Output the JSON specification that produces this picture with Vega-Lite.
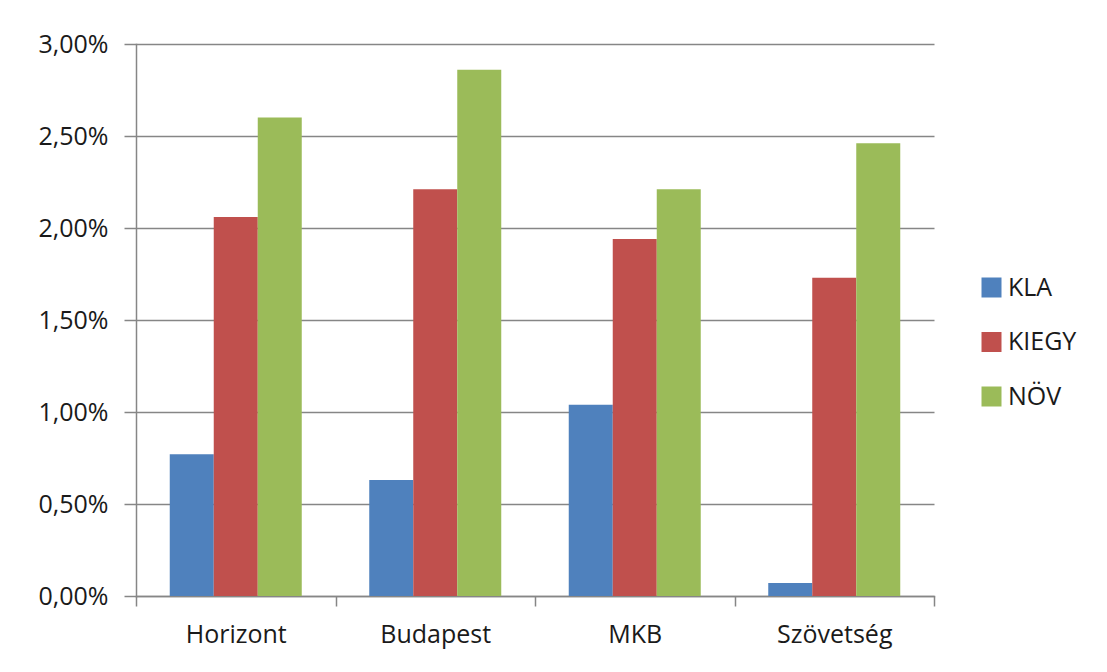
{
  "$schema": "https://vega.github.io/schema/vega-lite/v6.json",
  "width": 798,
  "height": 552,
  "autosize": {"type": "none"},
  "padding": {"left": 136, "top": 44, "right": 173, "bottom": 76},
  "background": "white",
  "data": {
    "values": [
      {"bank": "Horizont", "series": "KLA", "value": 0.0077},
      {"bank": "Horizont", "series": "KIEGY", "value": 0.0206},
      {"bank": "Horizont", "series": "NÖV", "value": 0.0260},
      {"bank": "Budapest", "series": "KLA", "value": 0.0063},
      {"bank": "Budapest", "series": "KIEGY", "value": 0.0221},
      {"bank": "Budapest", "series": "NÖV", "value": 0.0286},
      {"bank": "MKB", "series": "KLA", "value": 0.0104},
      {"bank": "MKB", "series": "KIEGY", "value": 0.0194},
      {"bank": "MKB", "series": "NÖV", "value": 0.0221},
      {"bank": "Szövetség", "series": "KLA", "value": 0.0007},
      {"bank": "Szövetség", "series": "KIEGY", "value": 0.0173},
      {"bank": "Szövetség", "series": "NÖV", "value": 0.0246}
    ]
  },
  "mark": {"type": "bar"},
  "encoding": {
    "x": {
      "field": "bank",
      "type": "nominal",
      "sort": ["Horizont", "Budapest", "MKB", "Szövetség"],
      "scale": {"paddingInner": 0, "paddingOuter": 0},
      "axis": {
        "title": null,
        "labelAngle": 0,
        "tickBand": "extent",
        "tickSize": 10,
        "tickColor": "#868686",
        "tickWidth": 1.5,
        "domainColor": "#868686",
        "domainWidth": 1.5,
        "labelPadding": 16,
        "labelFont": "Open Sans",
        "labelFontSize": 25,
        "labelColor": "#1a1a1a",
        "grid": false
      }
    },
    "xOffset": {
      "field": "series",
      "type": "nominal",
      "sort": ["KLA", "KIEGY", "NÖV"],
      "scale": {"paddingInner": 0, "paddingOuter": 0.767}
    },
    "y": {
      "field": "value",
      "type": "quantitative",
      "scale": {"domain": [0, 0.03], "nice": false},
      "axis": {
        "title": null,
        "values": [0, 0.005, 0.01, 0.015, 0.02, 0.025, 0.03],
        "labelExpr": "replace(format(datum.value, '.2%'), '.', ',')",
        "grid": true,
        "gridColor": "#868686",
        "gridWidth": 1.5,
        "tickSize": 12,
        "tickColor": "#868686",
        "tickWidth": 1.5,
        "domainColor": "#868686",
        "domainWidth": 1.5,
        "labelPadding": 16,
        "labelFont": "Open Sans",
        "labelFontSize": 25,
        "labelColor": "#1a1a1a"
      }
    },
    "color": {
      "field": "series",
      "type": "nominal",
      "sort": ["KLA", "KIEGY", "NÖV"],
      "scale": {"domain": ["KLA", "KIEGY", "NÖV"], "range": ["#4F81BD", "#C0504D", "#9BBB59"]},
      "legend": {
        "title": null,
        "orient": "none",
        "legendX": 843,
        "legendY": 231,
        "symbolType": "square",
        "symbolSize": 400,
        "symbolStrokeWidth": 0,
        "labelFont": "Open Sans",
        "labelFontSize": 25,
        "labelColor": "#1a1a1a",
        "rowPadding": 28.5,
        "labelOffset": 4
      }
    }
  },
  "config": {
    "view": {"stroke": null},
    "axis": {"domainCap": "square"}
  }
}
